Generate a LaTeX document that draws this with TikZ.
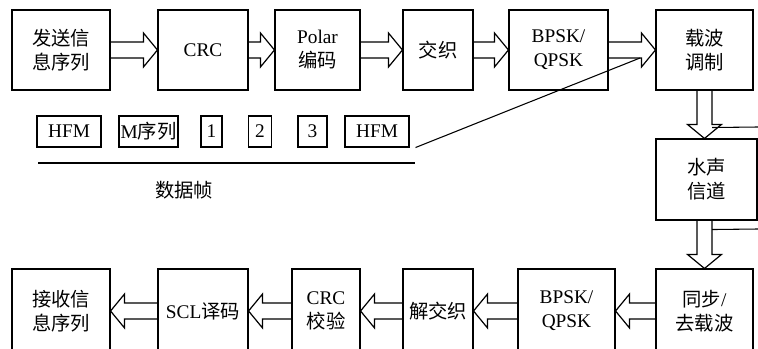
\documentclass[tikz,border=0pt]{standalone}
\usepackage{fontspec}
\setmainfont{Liberation Serif}
\newfontfamily\cjk{Noto Sans CJK SC}
\usetikzlibrary{calc}
\usetikzlibrary{positioning}
\tikzstyle{block} = [draw=black, line width=0.8pt, rectangle, align=center, inner sep=0pt, font=\fontsize{14.5}{18}\selectfont]
\tikzstyle{cell} = [draw=black, line width=0.8pt, rectangle, inner sep=0pt, minimum height=23.25pt, font=\fontsize{14.5}{18}\selectfont]
\tikzstyle{hollow} = [draw=black, line width=0.9pt, line join=miter]
%% hollow arrows between two boxes
\newcommand{\rarrow}[2]{\draw[hollow] ($(#1.east)+(0,-8)$) -- ($(#2.west)+(-14,-8)$) -- ($(#2.west)+(-14,-17)$) -- (#2.west) -- ($(#2.west)+(-14,17)$) -- ($(#2.west)+(-14,8)$) -- ($(#1.east)+(0,8)$);}
\newcommand{\larrow}[2]{\draw[hollow] ($(#1.west)+(0,-8)$) -- ($(#2.east)+(14,-8)$) -- ($(#2.east)+(14,-17)$) -- (#2.east) -- ($(#2.east)+(14,17)$) -- ($(#2.east)+(14,8)$) -- ($(#1.west)+(0,8)$);}
%% down arrow, #3 gives the axis
\newcommand{\darrow}[3]{\draw[hollow] ($(#3.south |- #1.south)+(-7.5,0)$) -- ($(#3.south |- #2.north)+(-7.5,-14)$) -- ($(#3.south |- #2.north)+(-17,-14)$) -- (#3.south |- #2.north) -- ($(#3.south |- #2.north)+(17,-14)$) -- ($(#3.south |- #2.north)+(7.5,-14)$) -- ($(#3.south |- #1.south)+(7.5,0)$);}

\begin{document}
\begin{tikzpicture}[x=0.75pt, y=-0.75pt]
    \useasboundingbox (0,0) rectangle (758,349);
    \clip (0,0) rectangle (758,349);

    %% transmitter row
    \node[block, minimum width=73.5pt, minimum height=60pt] (send) at (61,50) {{\cjk 发送信}\\{\cjk 息序列}};
    \node[block, minimum width=67.5pt, minimum height=60pt] (crc) at (203,50) {CRC};
    \node[block, minimum width=63.75pt, minimum height=60pt] (polar) at (317.5,50) {Polar\\{\cjk 编码}};
    \node[block, minimum width=52.5pt, minimum height=60pt] (inter) at (438,50) {\cjk 交织};
    \node[block, minimum width=74.25pt, minimum height=60pt] (mod) at (558.5,50) {BPSK/\\QPSK};
    \node[block, minimum width=72.75pt, minimum height=60pt] (carrier) at (704.5,50) {{\cjk 载波}\\{\cjk 调制}};
    \rarrow{send}{crc}
    \rarrow{crc}{polar}
    \rarrow{polar}{inter}
    \rarrow{inter}{mod}
    \rarrow{mod}{carrier}

    %% channel
    \node[block, minimum width=75.75pt, minimum height=60.75pt] (channel) at (706.5,179.5) {{\cjk 水声}\\{\cjk 信道}};

    %% receiver row
    \node[block, minimum width=72.75pt, minimum height=63pt] (sync) at (704.5,311) {{\cjk 同步}/\\{\cjk 去载波}};
    \node[block, minimum width=72.75pt, minimum height=63pt] (demod) at (566.5,311) {BPSK/\\QPSK};
    \node[block, minimum width=52.5pt, minimum height=63pt] (deint) at (438,311) {\cjk 解交织};
    \node[block, minimum width=51pt, minimum height=63pt] (check) at (326,311) {CRC\\{\cjk 校验}};
    \node[block, minimum width=67.5pt, minimum height=63pt] (scl) at (203,311) {SCL{\cjk 译码}};
    \node[block, minimum width=73.5pt, minimum height=63pt] (recv) at (61,311) {{\cjk 接收信}\\{\cjk 息序列}};
    \darrow{carrier}{channel}{carrier}
    \darrow{channel}{sync}{sync}
    \larrow{sync}{demod}
    \larrow{demod}{deint}
    \larrow{deint}{check}
    \larrow{check}{scl}
    \larrow{scl}{recv}

    \coordinate (e1) at (758,127);
    \coordinate (e2) at (758,229);
    \draw[line width=0.8pt] ($(carrier.south)+(7.5,37)$) -- (e1);
    \draw[line width=0.8pt] ($(sync.north |- channel.south)+(7.5,9)$) -- (e2);

    %% data frame
    \node[cell, minimum width=48pt] (hfma) at (69,131.5) {HFM};
    \node[cell, minimum width=44.25pt] (mseq) at (148.5,131.5) {M{\cjk 序列}};
    \node[cell, minimum width=15.75pt] (one) at (211.5,131.5) {1};
    \node[cell, minimum width=17.25pt] (two) at (260,131.5) {2};
    \node[cell, minimum width=21.75pt] (three) at (312.5,131.5) {3};
    \node[cell, minimum width=48pt] (hfmb) at (377,131.5) {HFM};
    \coordinate (fl) at (38,163);
    \coordinate (fr) at (415,163);
    \draw[line width=0.8pt] (fl) -- (fr);
    \node[font=\fontsize{14.5}{18}\selectfont] (frame) at (184,190) {\cjk 数据帧};

    \coordinate (pt) at (640,58);
    \draw[line width=0.8pt] ($(hfmb.south east)+(6,0)$) -- (pt);
\end{tikzpicture}
\end{document}
